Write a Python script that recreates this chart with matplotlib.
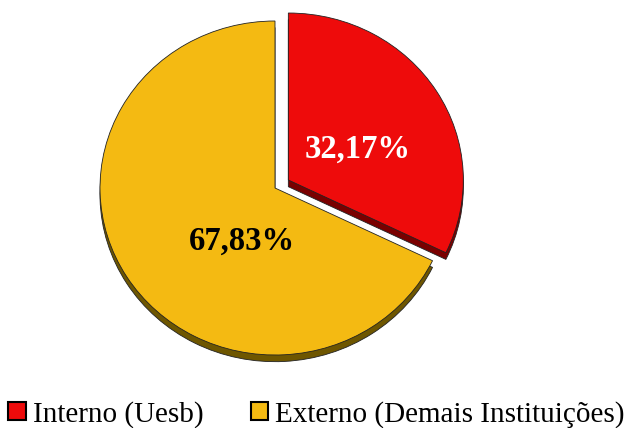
import matplotlib
matplotlib.use('Agg')
import matplotlib.pyplot as plt
from matplotlib.patches import Patch

labels = ['Interno (Uesb)', 'Externo (Demais Instituições)']
values = [32.17, 67.83]
value_text = ['32,17%', '67,83%']
colors = ['#EE0B0B', '#F4BA12']
dark_colors = ['#7A0000', '#6E5600']

plt.rcParams['font.family'] = ['Liberation Serif', 'DejaVu Serif']

fig = plt.figure(figsize=(6.27, 4.28), dpi=100)
W, H = 627, 428
cx, cy = 275, 188
rx, ry = 175, 167
ax = fig.add_axes([(cx - 1.2 * rx) / W, (H - cy - 1.2 * ry) / H, 2.4 * rx / W, 2.4 * ry / H])

explode = [0.09, 0]
depth = 0.04

# side face of the pie (shifted copy underneath)
ax.pie(values, colors=dark_colors, explode=explode, startangle=90, counterclock=False,
       center=(0, -depth), wedgeprops=dict(edgecolor='#222222', linewidth=0.6))
# top face
wedges, _ = ax.pie(values, colors=colors, explode=explode, startangle=90, counterclock=False,
                   wedgeprops=dict(edgecolor='#222222', linewidth=0.6))

ax.set_aspect('auto')
ax.set_xlim(-1.2, 1.2)
ax.set_ylim(-1.2, 1.2)
ax.axis('off')

ax.text(0.47, 0.23, value_text[0], color='white', fontsize=23.5, fontweight='bold',
        ha='center', va='center')
ax.text(-0.19, -0.32, value_text[1], color='black', fontsize=23.5, fontweight='bold',
        ha='center', va='center')

handles = [Patch(facecolor=c, edgecolor='black', linewidth=1.5) for c in colors]
fig.legend(handles, labels, loc='center', bbox_to_anchor=(0.505, 0.032), ncol=2,
           frameon=False, fontsize=21, handlelength=0.6, handleheight=0.6,
           handletextpad=0.25, columnspacing=1.6, borderpad=0, borderaxespad=0)

fig.savefig('out.png', dpi=100)
